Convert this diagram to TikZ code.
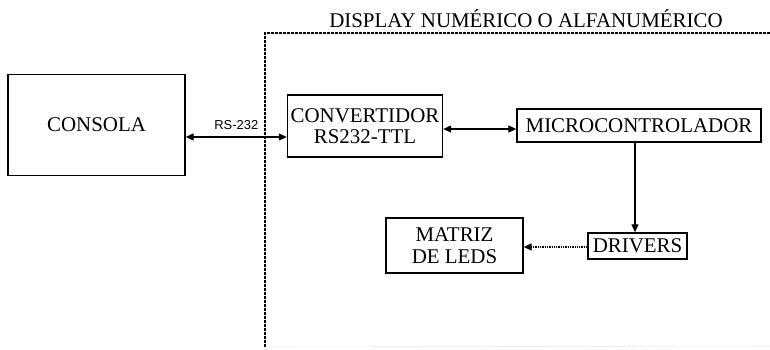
\documentclass[tikz,border=0pt]{standalone}
\usepackage{fontspec}
\setmainfont{Liberation Serif}
\setsansfont{Liberation Sans}
\usetikzlibrary{arrows.meta}
\begin{document}
\begin{tikzpicture}[x=1bp,y=-1bp,
  blk/.style={draw,line width=1.4bp,inner sep=0pt,align=center,font=\fontsize{21}{21.5}\selectfont},
  conn/.style={line width=1.3bp,{Triangle[length=8bp,width=7bp]}-{Triangle[length=8bp,width=7bp]}},
  oneway/.style={line width=1.3bp,-{Triangle[length=8bp,width=7bp]}},
  frame/.style={line width=1.3bp,dash pattern=on 3bp off 1bp}]
\useasboundingbox (0,0) rectangle (770,349);
\node[font=\fontsize{21}{22}\selectfont] (title) at (526,19) {DISPLAY NUMÉRICO O ALFANUMÉRICO};
\coordinate (fbl) at (265,347);
\coordinate (ftl) at (265,33);
\coordinate (ftr) at (770,33);
\coordinate (fbr) at (770,346);
\draw[frame] (fbl) -- (ftl) -- (ftr);
\draw[gray!40,densely dotted,line width=0.6bp] (fbl) -- (fbr);
\node[blk,minimum width=177bp,minimum height=101bp] (consola) at (96.5,125) {CONSOLA};
\node[blk,minimum width=155bp,minimum height=62bp] (conv) at (365,126) {CONVERTIDOR\\RS232-TTL};
\node[blk,minimum width=244bp,minimum height=33bp] (micro) at (639,125.5) {MICROCONTROLADOR};
\node[blk,minimum width=99bp,minimum height=26bp] (drivers) at (637.5,246) {DRIVERS};
\node[blk,minimum width=137bp,minimum height=55bp] (matriz) at (454.5,245.5) {MATRIZ\\DE LEDS};
\draw[conn] (consola.east |- 0,137) -- node[above=3bp,font=\sffamily\fontsize{13}{14}\selectfont] (rs) {RS-232} (conv.west |- 0,137);
\draw[conn] (conv.east |- 0,129) -- (micro.west |- 0,129);
\draw[oneway] (micro.south -| 635,0) -- (drivers.north -| 635,0);
\draw[oneway,densely dotted] (drivers.west |- 0,247) -- (matriz.east |- 0,247);
\end{tikzpicture}
\end{document}
